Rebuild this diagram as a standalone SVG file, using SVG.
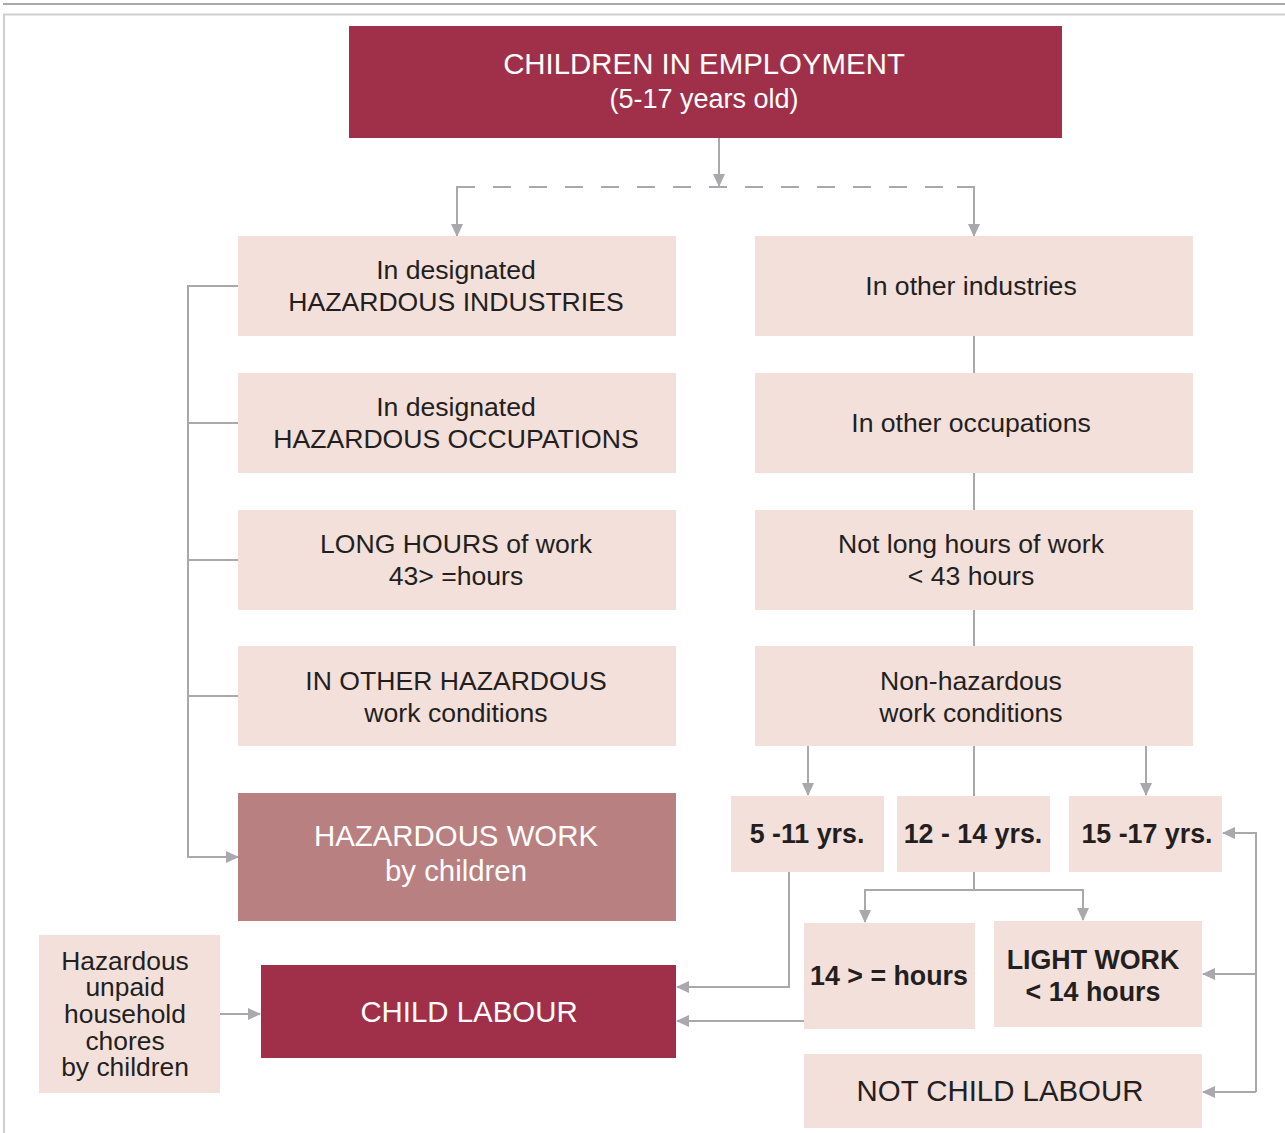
<svg xmlns="http://www.w3.org/2000/svg" width="1285" height="1133" viewBox="0 0 1285 1133">
<defs>
<marker id="ah" markerUnits="userSpaceOnUse" markerWidth="14" markerHeight="14" viewBox="0 0 14 14" refX="12" refY="7" orient="auto">
<path d="M0,1 L13,7 L0,13 Z" fill="#a9a9ad"/>
</marker>
<style>
.ln{fill:none;stroke:#a9a9ad;stroke-width:2}
.lt{fill:#f3e0db}
.dk{fill:#a0304a}
.md{fill:#b88080}
text{font-family:"Liberation Sans",Arial,sans-serif;text-anchor:middle;fill:#231f20;font-size:26.6px}
.w{fill:#ffffff}
.b{font-weight:bold;font-size:26.8px}
.big{font-size:29.4px}
.sub{font-size:27px}
.ch{font-size:26.4px}
</style>
</defs>
<rect width="1285" height="1133" fill="#ffffff"/>
<g id="frame">
<line x1="3" y1="4" x2="1285" y2="4" stroke="#a9a9ad" stroke-width="2"/>
<path d="M4,1133 V14.5 H1285" fill="none" stroke="#cfcfcf" stroke-width="2"/>
</g>
<g id="connectors">
<line class="ln" x1="719" y1="138" x2="719" y2="186" marker-end="url(#ah)"/>
<line class="ln" x1="457" y1="187" x2="974" y2="187" stroke-dasharray="18,18"/>
<path class="ln" d="M474,187 H457 V236" marker-end="url(#ah)"/>
<path class="ln" d="M957,187 H974 V236" marker-end="url(#ah)"/>
<path class="ln" d="M238,286 H188 V857 H238" marker-end="url(#ah)"/>
<line class="ln" x1="188" y1="423" x2="238" y2="423"/>
<line class="ln" x1="188" y1="560" x2="238" y2="560"/>
<line class="ln" x1="188" y1="696" x2="238" y2="696"/>
<line class="ln" x1="974" y1="336" x2="974" y2="373"/>
<line class="ln" x1="974" y1="473" x2="974" y2="510"/>
<line class="ln" x1="974" y1="610" x2="974" y2="646"/>
<line class="ln" x1="974" y1="746" x2="974" y2="796"/>
<line class="ln" x1="808" y1="746" x2="808" y2="795" marker-end="url(#ah)"/>
<line class="ln" x1="1146" y1="746" x2="1146" y2="795" marker-end="url(#ah)"/>
<path class="ln" d="M974,872 V890 H865 V922" marker-end="url(#ah)"/>
<path class="ln" d="M974,890 H1083 V920" marker-end="url(#ah)"/>
<path class="ln" d="M789,872 V987 H677" marker-end="url(#ah)"/>
<line class="ln" x1="804" y1="1021" x2="677" y2="1021" marker-end="url(#ah)"/>
<line class="ln" x1="220" y1="1014" x2="260" y2="1014" marker-end="url(#ah)"/>
<path class="ln" d="M1256,1092 V833 H1223" marker-end="url(#ah)"/>
<line class="ln" x1="1256" y1="974" x2="1203" y2="974" marker-end="url(#ah)"/>
<line class="ln" x1="1256" y1="1092" x2="1203" y2="1092" marker-end="url(#ah)"/>
</g>
<g id="n-employment">
<rect class="dk" x="349" y="26" width="713" height="112"/>
<text class="w big" x="704" y="74">CHILDREN IN EMPLOYMENT</text>
<text class="w sub" x="704" y="108">(5-17 years old)</text>
</g>
<g id="n-haz-ind">
<rect class="lt" x="238" y="236" width="438" height="100"/>
<text x="456" y="279">In designated</text>
<text x="456" y="311">HAZARDOUS INDUSTRIES</text>
</g>
<g id="n-other-ind">
<rect class="lt" x="755" y="236" width="438" height="100"/>
<text x="971" y="295">In other industries</text>
</g>
<g id="n-haz-occ">
<rect class="lt" x="238" y="373" width="438" height="100"/>
<text x="456" y="416">In designated</text>
<text x="456" y="448">HAZARDOUS OCCUPATIONS</text>
</g>
<g id="n-other-occ">
<rect class="lt" x="755" y="373" width="438" height="100"/>
<text x="971" y="432">In other occupations</text>
</g>
<g id="n-long-hours">
<rect class="lt" x="238" y="510" width="438" height="100"/>
<text x="456" y="553">LONG HOURS of work</text>
<text x="456" y="585">43&gt; =hours</text>
</g>
<g id="n-not-long">
<rect class="lt" x="755" y="510" width="438" height="100"/>
<text x="971" y="553">Not long hours of work</text>
<text x="971" y="585">&lt; 43 hours</text>
</g>
<g id="n-other-haz">
<rect class="lt" x="238" y="646" width="438" height="100"/>
<text x="456" y="690">IN OTHER HAZARDOUS</text>
<text x="456" y="722">work conditions</text>
</g>
<g id="n-non-haz">
<rect class="lt" x="755" y="646" width="438" height="100"/>
<text x="971" y="690">Non-hazardous</text>
<text x="971" y="722">work conditions</text>
</g>
<g id="n-haz-work">
<rect class="md" x="238" y="793" width="438" height="128"/>
<text class="w big" x="456" y="846">HAZARDOUS WORK</text>
<text class="w big" x="456" y="881">by children</text>
</g>
<g id="n-5-11">
<rect class="lt" x="731" y="796" width="153" height="76"/>
<text class="b" x="807" y="843">5 -11 yrs.</text>
</g>
<g id="n-12-14">
<rect class="lt" x="897" y="796" width="153" height="76"/>
<text class="b" x="973" y="843">12 - 14 yrs.</text>
</g>
<g id="n-15-17">
<rect class="lt" x="1069" y="796" width="153" height="76"/>
<text class="b" x="1147" y="843">15 -17 yrs.</text>
</g>
<g id="n-14-more">
<rect class="lt" x="804" y="923" width="171" height="106"/>
<text class="b" x="889" y="985">14 &gt; = hours</text>
</g>
<g id="n-light">
<rect class="lt" x="994" y="921" width="208" height="106"/>
<text class="b" x="1093" y="969">LIGHT WORK</text>
<text class="b" x="1093" y="1001">&lt; 14 hours</text>
</g>
<g id="n-not-child-labour">
<rect class="lt" x="804" y="1054" width="398" height="74"/>
<text class="big" x="1000" y="1101">NOT CHILD LABOUR</text>
</g>
<g id="n-child-labour">
<rect class="dk" x="261" y="965" width="415" height="93"/>
<text class="w big" x="469" y="1022">CHILD LABOUR</text>
</g>
<g id="n-chores">
<rect class="lt" x="39" y="935" width="181" height="158"/>
<text class="ch" x="125" y="970">Hazardous</text>
<text class="ch" x="125" y="996">unpaid</text>
<text class="ch" x="125" y="1023">household</text>
<text class="ch" x="125" y="1050">chores</text>
<text class="ch" x="125" y="1076">by children</text>
</g>
</svg>
